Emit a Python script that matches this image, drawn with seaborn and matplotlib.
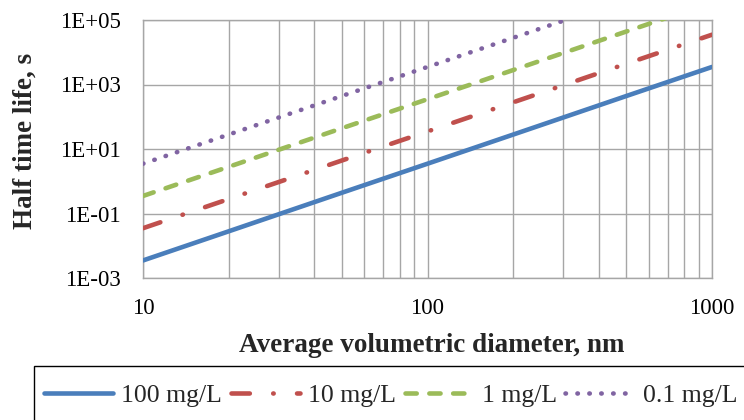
import matplotlib
matplotlib.use("Agg")
import matplotlib.pyplot as plt
from matplotlib.patches import Rectangle
from matplotlib.ticker import FixedLocator, FixedFormatter, LogLocator, NullFormatter
import pandas as pd
import seaborn as sns

# Half-life of nanoparticle suspensions vs. particle size, per concentration
diameter_nm = [10, 20, 50, 100, 200, 500, 1000]
half_life_100 = [0.0035, 0.028, 0.44, 3.5, 28, 440, 3500]
half_life_10 = [0.035, 0.28, 4.4, 35, 280, 4400, 35000]
half_life_1 = [0.35, 2.8, 44, 350, 2800, 44000, 350000]
half_life_01 = [3.5, 28, 440, 3500, 28000, 440000, 3500000]

series_names = ["100 mg/L", "10 mg/L", "1 mg/L", "0.1 mg/L"]
series_values = [half_life_100, half_life_10, half_life_1, half_life_01]

y_tick_values = [1e-3, 1e-1, 1e1, 1e3, 1e5]
y_tick_labels = ["1E-03", "1E-01", "1E+01", "1E+03", "1E+05"]
x_tick_values = [10, 100, 1000]
x_tick_labels = ["10", "100", "1000"]

colors = {"100 mg/L": "#4A7EBB", "10 mg/L": "#C0504D",
          "1 mg/L": "#9BBB59", "0.1 mg/L": "#8064A2"}
dash_styles = {"100 mg/L": "", "10 mg/L": (4.0, 5.1, 0.1, 5.1),
               "1 mg/L": (2.45, 2.75), "0.1 mg/L": (0.1, 2.5)}

df = pd.DataFrame({
    "diameter": [d for _ in series_names for d in diameter_nm],
    "half_life": [v for vals in series_values for v in vals],
    "series": [name for name in series_names for _ in diameter_nm],
})

sns.set_style("white")
plt.rcParams["font.family"] = ["Liberation Serif", "DejaVu Serif"]

W, H = 744, 420
fig = plt.figure(figsize=(W / 100, H / 100), dpi=100)
L, R, T, B = 143, 712, 20, 278
ax = fig.add_axes([L / W, 1 - B / H, (R - L) / W, (B - T) / H])

sns.lineplot(data=df, x="diameter", y="half_life", hue="series", style="series",
             hue_order=series_names, style_order=series_names,
             palette=colors, dashes=dash_styles, linewidth=3.3,
             dash_capstyle="round", solid_capstyle="round",
             legend=False, ax=ax, zorder=3)

ax.set_xscale("log")
ax.set_yscale("log")
ax.set_xlim(10, 1000)
ax.set_ylim(1e-3, 1e5)

grid_color = "#A6A6A6"
ax.yaxis.set_major_locator(FixedLocator(y_tick_values))
ax.yaxis.set_major_formatter(FixedFormatter(y_tick_labels))
ax.yaxis.set_minor_locator(FixedLocator([]))
ax.xaxis.set_major_locator(FixedLocator(x_tick_values))
ax.xaxis.set_major_formatter(FixedFormatter(x_tick_labels))
ax.xaxis.set_minor_locator(LogLocator(base=10, subs=range(2, 10)))
ax.xaxis.set_minor_formatter(NullFormatter())

ax.grid(True, which="major", axis="both", color=grid_color, lw=1.0)
ax.grid(True, which="minor", axis="x", color=grid_color, lw=1.0)
ax.set_axisbelow(True)
for sp in ax.spines.values():
    sp.set_color(grid_color)
    sp.set_linewidth(1.0)

ax.tick_params(axis="both", which="major", direction="out", length=5.5, width=1.0,
               color=grid_color, labelsize=16.5, labelcolor="black")
ax.tick_params(axis="y", which="major", pad=10.5)
ax.tick_params(axis="x", which="minor", length=0)
ax.tick_params(axis="x", which="major", pad=9)

ax.set_xlabel("Average volumetric diameter, nm", fontsize=19.5, fontweight="bold")
ax.set_ylabel("Half time life, s", fontsize=19.5, fontweight="bold")
ax.xaxis.label.set(va="baseline", ha="center")
ax.xaxis.set_label_coords((432 - L) / (R - L), (B - 351.7) / (B - T))
ax.yaxis.label.set(va="baseline", ha="center", rotation_mode="anchor")
ax.yaxis.set_label_coords((31.5 - L) / (R - L), (B - 141) / (B - T))

leg = ax.legend(handles=list(ax.get_lines()[:4]), labels=series_names, ncol=4,
                loc="upper left", bbox_to_anchor=(44 / W, 1 - 384 / H),
                bbox_transform=fig.transFigure, frameon=False, fontsize=18.5,
                borderpad=0, handlelength=2.68, handletextpad=0.33,
                columnspacing=0.33, borderaxespad=0)

# Legend frame running off the lower and right edges of the figure
fig.add_artist(Rectangle((33.5 / W, -0.5), 2.0, (1 - 365.5 / H) + 0.5,
                         transform=fig.transFigure, fill=False,
                         edgecolor="black", linewidth=1.0, clip_on=False))

fig.savefig("out.png", dpi=100)
